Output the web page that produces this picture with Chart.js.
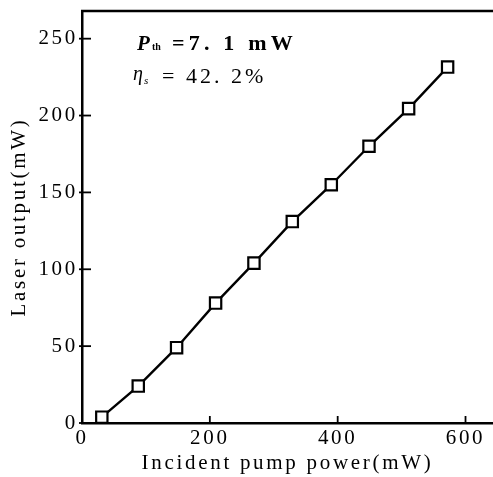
<!DOCTYPE html>
<html>
<head>
<meta charset="utf-8">
<script src="https://cdn.jsdelivr.net/npm/chart.js@4"></script>
<style>
html,body{margin:0;padding:0;background:#fff;overflow:hidden;}
#wrap{width:493px;height:477px;position:relative;}
canvas{display:block;}
</style>
</head>
<body>
<div id="wrap"><canvas id="c" width="493" height="477"></canvas></div>
<script>
const pumpPower = [31, 88, 148, 209, 269, 329, 390, 449, 511, 572];
const laserOutput = [3.8, 24, 49, 78, 104, 131, 155, 180, 204.5, 231.5];
const xTicks = [0, 200, 400, 600];
const yTicks = [0, 50, 100, 150, 200, 250];
const xTitle = 'Incident pump power(mW)';
const yTitle = 'Laser output(mW)';

const SERIF = '"Liberation Serif", "DejaVu Serif", serif';

const spacingPlugin = {
  id: 'spacing',
  beforeDraw(chart) { chart.ctx.letterSpacing = '2.7px'; }
};

const framePlugin = {
  id: 'frame',
  afterDraw(chart) {
    const ctx = chart.ctx;
    const a = chart.chartArea;
    const xs = chart.scales.x, ys = chart.scales.y;
    ctx.save();
    ctx.strokeStyle = '#000';
    ctx.lineWidth = 2.5;
    ctx.beginPath();
    ctx.moveTo(a.left - 1, a.top);
    ctx.lineTo(a.right + 2, a.top);
    ctx.stroke();
    ctx.lineWidth = 1.8;
    yTicks.forEach(v => {
      const py = ys.getPixelForValue(v);
      ctx.beginPath();
      ctx.moveTo(a.left - 3, py);
      ctx.lineTo(a.left + 9, py);
      ctx.stroke();
    });
    xTicks.forEach(v => {
      const px = xs.getPixelForValue(v);
      ctx.beginPath();
      ctx.moveTo(px, a.bottom);
      ctx.lineTo(px, a.bottom - 7);
      ctx.stroke();
    });
    // annotations
    ctx.fillStyle = '#000';
    ctx.textBaseline = 'alphabetic';
    ctx.textAlign = 'left';
    ctx.letterSpacing = '0px';
    ctx.font = 'italic bold 21px ' + SERIF;
    ctx.fillText('P', 137, 50);
    ctx.font = 'bold 10px ' + SERIF;
    ctx.fillText('th', 152, 50);
    ctx.letterSpacing = '4.2px';
    ctx.font = 'bold 22px ' + SERIF;
    ctx.fillText('=7. 1 mW', 172, 50);
    ctx.letterSpacing = '0px';
    ctx.font = 'italic 20px ' + SERIF;
    ctx.fillText('η', 133, 80);
    ctx.font = 'italic 11px ' + SERIF;
    ctx.fillText('s', 144, 84);
    ctx.letterSpacing = '3px';
    ctx.font = '22px ' + SERIF;
    ctx.fillText('= 42. 2%', 162, 83);
    ctx.restore();
  }
};

new Chart(document.getElementById('c'), {
  type: 'scatter',
  data: {
    datasets: [{
      data: pumpPower.map((x, i) => ({ x: x, y: laserOutput[i] })),
      showLine: true,
      borderColor: '#000',
      borderWidth: 2.4,
      pointStyle: 'rect',
      pointRadius: 8,
      pointHoverRadius: 8,
      pointBorderWidth: 2.2,
      pointBackgroundColor: '#fff',
      pointBorderColor: '#000'
    }]
  },
  options: {
    responsive: false,
    animation: false,
    devicePixelRatio: 1,
    layout: { autoPadding: false, padding: { top: 11, right: 0, left: 0, bottom: 0 } },
    plugins: { legend: { display: false }, tooltip: { enabled: false } },
    scales: {
      x: {
        type: 'linear',
        min: 0, max: 643,
        afterBuildTicks(s) { s.ticks = xTicks.map(v => ({ value: v })); },
        afterFit(s) { s.height = 54; s.paddingLeft = 0; s.paddingRight = 0; },
        grid: { display: true, drawOnChartArea: false, drawTicks: false },
        border: { display: true, color: '#000', width: 2.5 },
        ticks: { color: '#000', font: { family: SERIF, size: 21 }, padding: 3, maxRotation: 0,
                 callback: v => String(v) },
        title: { display: true, text: xTitle, color: '#000', font: { family: SERIF, size: 21 },
                 padding: { top: 0, bottom: 1 } }
      },
      y: {
        type: 'linear',
        min: 0, max: 268,
        afterBuildTicks(s) { s.ticks = yTicks.map(v => ({ value: v })); },
        afterFit(s) { s.width = 82; s.paddingTop = 0; s.paddingBottom = 0; },
        grid: { display: true, drawOnChartArea: false, drawTicks: false },
        border: { display: true, color: '#000', width: 2.5 },
        ticks: { color: '#000', font: { family: SERIF, size: 21 }, padding: 4,
                 callback: v => String(v) },
        title: { display: true, text: yTitle, color: '#000', font: { family: SERIF, size: 21 },
                 padding: { top: 7, bottom: 0 } }
      }
    }
  },
  plugins: [spacingPlugin, framePlugin]
});
</script>
</body>
</html>
